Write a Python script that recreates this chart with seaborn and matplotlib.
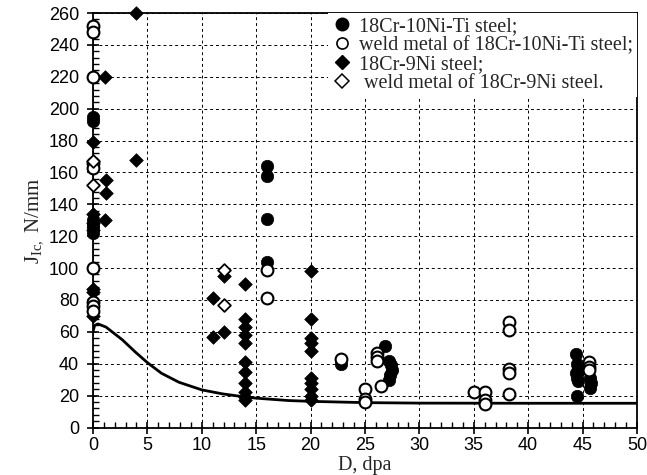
import numpy as np
import pandas as pd
import matplotlib
matplotlib.use("Agg")
import matplotlib.pyplot as plt
import seaborn as sns
from matplotlib.lines import Line2D
from matplotlib.ticker import MultipleLocator

# ---------------- data ----------------
cr10ti_D = [0, 0, 0, 0, 0, 0,
            16, 16, 16, 16,
            22.8, 26.8, 27.2, 27.4, 27.5, 27.3, 27.2,
            44.4, 44.5, 44.6, 44.4, 44.5, 44.6, 44.5,
            45.7, 45.8, 45.7]
cr10ti_J = [195, 192, 130, 127, 125, 122,
            164, 158, 131, 104,
            40, 51, 42, 39, 36, 33, 30,
            46, 40, 37, 34, 31, 29, 20,
            31, 28, 25]

weld10ti_D = [0, 0, 0, 0, 0, 0, 0, 0, 0,
              16, 16, 22.8, 25, 25, 25, 26.1, 26.1, 26.1, 26.5,
              35, 36, 36, 36, 38.2, 38.2, 38.2, 38.2, 38.2,
              45.6, 45.6, 45.6]
weld10ti_J = [252, 248, 220, 166, 163, 100, 79, 76, 73,
              99, 81, 43, 24, 18, 16, 47, 44, 42, 26,
              22, 22, 17, 15, 66, 61, 37, 34, 21,
              41, 38, 36]

cr9_D = [0, 0, 0, 0, 0, 0, 0,
         1.1, 1.2, 1.2, 1.1, 4, 4,
         11, 11, 12, 12,
         14, 14, 14, 14, 14, 14, 14, 14, 14, 14, 14,
         20, 20, 20, 20, 20, 20, 20, 20, 20, 20]
cr9_J = [179, 134, 128, 124, 87, 85, 70,
         220, 155, 147, 130, 260, 168,
         81, 57, 95, 60,
         90, 68, 63, 58, 53, 41, 35, 28, 22, 19, 17,
         98, 68, 56, 53, 48, 31, 28, 24, 20, 17]

weld9_D = [0, 0, 12, 12]
weld9_J = [167, 152, 99, 77]

curve_D = [0, 0.15, 0.45, 1.2, 2.7, 3.9, 5, 6.3, 7.9, 10, 11.9, 13.5, 15, 18, 20, 25, 30, 40, 50]
curve_J = [60, 64, 65, 63, 55, 47.3, 40.7, 34, 28.4, 23.6, 21.1, 19.6, 18.4, 16.9, 16.4, 15.6, 15.3, 15.2, 15.2]

labels = ["18Cr-10Ni-Ti steel;",
          "weld metal of 18Cr-10Ni-Ti steel;",
          "18Cr-9Ni steel;",
          " weld metal of 18Cr-9Ni steel."]
x_ticks = list(range(0, 51, 5))
y_ticks = list(range(0, 261, 20))

# ---------------- figure ----------------
sns.set_theme(style="white")
plt.rcParams["font.family"] = ["Liberation Sans", "DejaVu Sans"]
plt.rcParams["mathtext.fontset"] = "custom"
plt.rcParams["mathtext.rm"] = "Liberation Serif"

fig = plt.figure(figsize=(6.47, 4.75), dpi=100)
ax = fig.add_axes([0.1437, 0.1, 0.8408, 0.8726])

sns.lineplot(x=curve_D, y=curve_J, color="black", linewidth=2, ax=ax,
             estimator=None, sort=False, zorder=2)

sns.scatterplot(x=cr10ti_D, y=cr10ti_J, marker="o", s=80, facecolor="black",
                edgecolor="black", linewidth=0.5, ax=ax, clip_on=False, zorder=4)
sns.scatterplot(x=weld10ti_D, y=weld10ti_J, marker="o", s=72, facecolor="white",
                edgecolor="black", linewidth=1.5, ax=ax, clip_on=False, zorder=5)
sns.scatterplot(x=cr9_D, y=cr9_J, marker="D", s=48, facecolor="black",
                edgecolor="black", linewidth=0.5, ax=ax, clip_on=False, zorder=4)
sns.scatterplot(x=weld9_D, y=weld9_J, marker="D", s=42, facecolor="white",
                edgecolor="black", linewidth=1.3, ax=ax, clip_on=False, zorder=5)

ax.set_xlim(0, 50)
ax.set_ylim(0, 260)
ax.set_xticks(x_ticks)
ax.set_yticks(y_ticks)
ax.xaxis.set_minor_locator(MultipleLocator(1))
ax.yaxis.set_minor_locator(MultipleLocator(4))

ax.grid(True, which="major", linestyle=(0, (3, 3)), color="black", linewidth=0.7)
ax.set_axisbelow(True)
for sp in ax.spines.values():
    sp.set_color("black")
    sp.set_linewidth(1.3)

ax.tick_params(which="major", direction="inout", length=8, width=1.2,
               colors="black", labelsize=13, bottom=True, left=True)
ax.tick_params(axis="y", which="major", pad=6)
ax.tick_params(axis="x", which="major", pad=3)
ax.tick_params(which="minor", direction="in", length=4, width=1,
               colors="black", bottom=True, left=True)
for lab in ax.get_xticklabels() + ax.get_yticklabels():
    lab.set_fontfamily(["Liberation Sans", "DejaVu Sans"])

ax.set_xlabel("D, dpa", fontfamily="Liberation Serif", fontsize=14.5, labelpad=1)
ax.set_ylabel(r"$\mathregular{J_{Ic,}}$ N/mm", fontfamily="Liberation Serif",
              fontsize=15, labelpad=3)

handles = [
    Line2D([], [], ls="", marker="o", ms=9, mfc="black", mec="black"),
    Line2D([], [], ls="", marker="o", ms=8, mfc="white", mec="black", mew=1.2),
    Line2D([], [], ls="", marker="D", ms=7.5, mfc="black", mec="black"),
    Line2D([], [], ls="", marker="D", ms=7, mfc="white", mec="black", mew=1.1),
]
leg = ax.legend(handles, labels, loc="upper right", bbox_to_anchor=(1, 1),
                borderaxespad=0, frameon=True, fancybox=False, framealpha=1,
                facecolor="white", edgecolor="none",
                prop={"family": "Liberation Serif", "size": 14.5},
                handlelength=1.0, handletextpad=0.35, labelspacing=0.0,
                borderpad=0.2)
leg.set_zorder(10)

fig.savefig("out.png", dpi=100)
